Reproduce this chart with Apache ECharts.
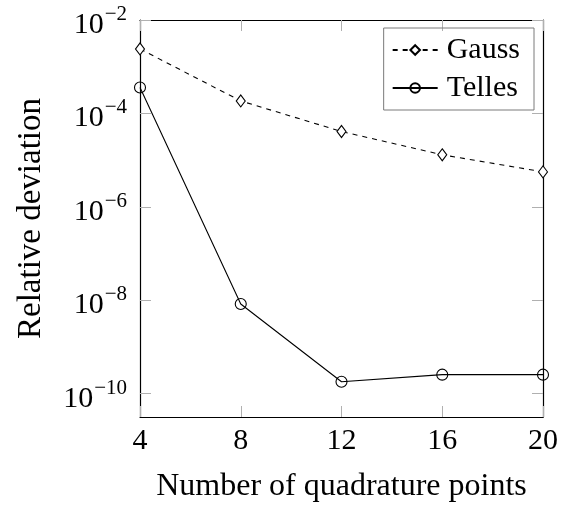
<!DOCTYPE html>
<html>
<head>
<meta charset="utf-8">
<script src="https://cdn.jsdelivr.net/npm/echarts@6/dist/echarts.min.js"></script>
<style>
html, body { margin: 0; padding: 0; background: #fff; }
#chart { width: 567px; height: 508px; }
</style>
</head>
<body>
<div id="chart"></div>
<script>
// Quadrature convergence data
const quadPoints = [4, 8, 12, 16, 20];
const gaussDev = [2.4e-3, 1.85e-4, 4.1e-5, 1.3e-5, 5.6e-6];
const tellesDev = [3.6e-4, 8.3e-9, 1.8e-10, 2.55e-10, 2.55e-10];
const xTickValues = [4, 8, 12, 16, 20];
const yTickExponents = [-10, -8, -6, -4, -2];
const seriesNames = ['Gauss', 'Telles'];

const FONT = '"Liberation Serif", "Times New Roman", serif';
const yTickValues = yTickExponents.map(e => Math.pow(10, e));
const yMin = Math.pow(10, -10.5);
const yMax = 1e-2;

const tickStyle = { color: '#b0b0b0', width: 1 };
const axisLineStyle = { color: '#000', width: 1.2 };

const chart = echarts.init(document.getElementById('chart'), null, { renderer: 'canvas' });

chart.setOption({
  backgroundColor: '#fff',
  animation: false,
  grid: { left: 140, right: 24, top: 20, bottom: 86 },
  legend: {
    data: seriesNames,
    orient: 'vertical',
    right: 33,
    top: 28,
    itemWidth: 45,
    itemHeight: 12,
    itemGap: 8,
    padding: [7, 14, 7, 8],
    borderColor: '#7a7a7a',
    borderWidth: 1,
    textStyle: { fontFamily: FONT, fontSize: 30, color: '#000', padding: [0, 0, 0, 4] }
  },
  xAxis: [
    {
      type: 'value',
      min: 4, max: 20, interval: 4,
      name: 'Number of quadrature points',
      nameLocation: 'middle',
      nameGap: 54,
      nameTextStyle: { fontFamily: FONT, fontSize: 32, color: '#000' },
      axisLine: { show: true, lineStyle: axisLineStyle },
      axisTick: { show: true, inside: true, length: 11, lineStyle: tickStyle },
      axisLabel: { fontFamily: FONT, fontSize: 30, color: '#000', margin: 9 },
      splitLine: { show: false }
    },
    {
      type: 'value',
      position: 'top',
      min: 4, max: 20, interval: 4,
      axisLine: { show: true, lineStyle: axisLineStyle },
      axisTick: { show: true, inside: true, length: 11, lineStyle: tickStyle },
      axisLabel: { show: false },
      splitLine: { show: false }
    }
  ],
  yAxis: [
    {
      type: 'log',
      logBase: 10,
      min: yMin, max: yMax,
      name: 'Relative deviation',
      nameLocation: 'middle',
      nameGap: 92,
      nameTextStyle: { fontFamily: FONT, fontSize: 33, color: '#000' },
      axisLine: { show: true, lineStyle: axisLineStyle },
      axisTick: { show: true, inside: true, length: 11, lineStyle: tickStyle, customValues: yTickValues },
      axisLabel: {
        customValues: yTickValues,
        margin: 13,
        formatter: v => '{b|10}{s|\u2212' + Math.abs(Math.round(Math.log10(v))) + '}',
        rich: {
          b: { fontFamily: FONT, fontSize: 30, color: '#000', padding: [10, 0, 0, 0] },
          s: { fontFamily: FONT, fontSize: 21, color: '#000', padding: [0, 0, 11, 1] }
        }
      },
      splitLine: { show: false }
    },
    {
      type: 'log',
      logBase: 10,
      position: 'right',
      min: yMin, max: yMax,
      axisLine: { show: true, lineStyle: axisLineStyle },
      axisTick: { show: true, inside: true, length: 11, lineStyle: tickStyle, customValues: yTickValues },
      axisLabel: { show: false },
      splitLine: { show: false }
    }
  ],
  series: [
    {
      name: seriesNames[0],
      type: 'line',
      data: quadPoints.map((x, i) => [x, gaussDev[i]]),
      symbol: 'diamond',
      symbolSize: [9, 12],
      showAllSymbol: true,
      lineStyle: { color: '#000', width: 1.1, type: [5, 5] },
      itemStyle: { color: '#fff', borderColor: '#000', borderWidth: 1.1 }
    },
    {
      name: seriesNames[1],
      type: 'line',
      data: quadPoints.map((x, i) => [x, tellesDev[i]]),
      symbol: 'circle',
      symbolSize: 11,
      showAllSymbol: true,
      lineStyle: { color: '#000', width: 1.1 },
      itemStyle: { color: 'rgba(255,255,255,0)', borderColor: '#000', borderWidth: 1.1 }
    }
  ]
});
</script>
</body>
</html>
